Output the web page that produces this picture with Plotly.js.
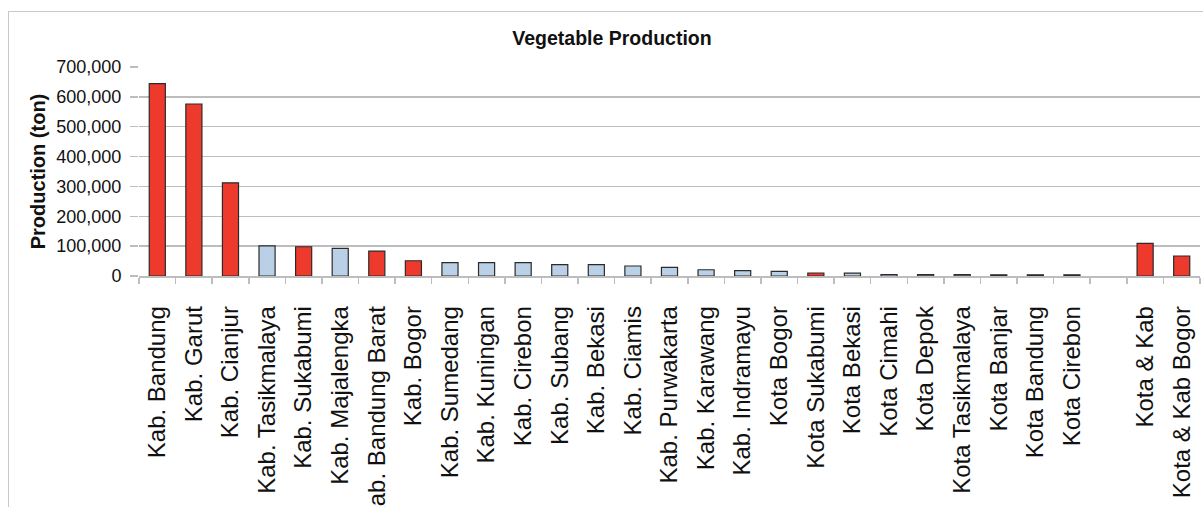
<!DOCTYPE html>
<html>
<head>
<meta charset="utf-8">
<script src="https://cdn.plot.ly/plotly-3.0.1.min.js"></script>
<style>
  html, body { margin: 0; padding: 0; background: #ffffff; overflow: hidden; }
  #wrap { position: relative; width: 1203px; height: 507px; overflow: hidden; }
  #chart { position: absolute; left: 0; top: 0; width: 1203px; height: 507px; }
  #frame { position: absolute; left: 8px; top: 11px; width: 1300px; height: 600px;
           border: 1.5px solid #c9c9c9; pointer-events: none; }
</style>
</head>
<body>
<div id="wrap">
  <div id="chart"></div>
  <div id="frame"></div>
</div>
<script>
// Regencies (Kab.) and cities (Kota) of West Java, plus two combined entries
const regions = [
  "Kab. Bandung", "Kab. Garut", "Kab. Cianjur", "Kab. Tasikmalaya", "Kab. Sukabumi",
  "Kab. Majalengka", "Kab. Bandung Barat", "Kab. Bogor", "Kab. Sumedang", "Kab. Kuningan",
  "Kab. Cirebon", "Kab. Subang", "Kab. Bekasi", "Kab. Ciamis", "Kab. Purwakarta",
  "Kab. Karawang", "Kab. Indramayu", "Kota Bogor", "Kota Sukabumi", "Kota Bekasi",
  "Kota Cimahi", "Kota Depok", "Kota Tasikmalaya", "Kota Banjar", "Kota Bandung",
  "Kota Cirebon", " ", "Kota & Kab", "Kota & Kab Bogor"
];

// Vegetable production in tons (blank slot separates the combined entries)
const production = [
  644000, 576000, 312000, 101000, 98000,
  92500, 83500, 51000, 44500, 44500,
  44500, 38000, 38000, 33500, 29000,
  21000, 18000, 15500, 10000, 9500,
  5000, 4500, 4500, 4000, 4000,
  4000, null, 109000, 67000
];

// Highlighted regions are drawn in red, the rest in light blue
const highlighted = [
  true, true, true, false, true,
  false, true, true, false, false,
  false, false, false, false, false,
  false, false, false, true, false,
  false, false, false, false, false,
  false, false, true, true
];

const RED = "#ee3a2d";
const BLUE = "#b9d0e6";
const barColors = highlighted.map(h => h ? RED : BLUE);

const yTicks = [0, 100000, 200000, 300000, 400000, 500000, 600000, 700000];
const yTickText = ["0", "100,000", "200,000", "300,000", "400,000", "500,000", "600,000", "700,000"];

const FONT = "Liberation Sans, Arial, Helvetica, sans-serif";

const trace = {
  type: "bar",
  x: regions,
  y: production,
  marker: {
    color: barColors,
    line: { color: "#2b2b2b", width: 1.2 }
  },
  hoverinfo: "x+y"
};

const layout = {
  width: 1203,
  height: 507,
  margin: { l: 139, r: 3, t: 67, b: 231, pad: 0 },
  paper_bgcolor: "#ffffff",
  plot_bgcolor: "#ffffff",
  showlegend: false,
  bargap: 0.56,
  font: { family: FONT, color: "#111111" },
  title: {
    text: "<b>Vegetable Production</b>",
    font: { family: FONT, size: 19.5, color: "#111111" },
    xref: "container", x: 0.5087, xanchor: "center",
    yref: "container", y: 1 - 38 / 507, yanchor: "middle"
  },
  xaxis: {
    type: "category",
    categoryorder: "array",
    categoryarray: regions,
    tickangle: -90,
    tickson: "boundaries",
    ticks: "outside",
    ticklen: 6,
    tickwidth: 1.5,
    tickcolor: "#bdbdbd",
    showline: true,
    linecolor: "#bdbdbd",
    linewidth: 1.5,
    showgrid: false,
    tickfont: { family: FONT, size: 24, color: "#111111" },
    ticklabelstandoff: 19,
    automargin: false,
    fixedrange: true
  },
  yaxis: {
    range: [0, 700000],
    tickvals: yTicks,
    ticktext: yTickText,
    ticks: "outside",
    ticklen: 8,
    tickwidth: 1.5,
    tickcolor: "#bdbdbd",
    showgrid: true,
    gridcolor: "#bdbdbd",
    gridwidth: 1.5,
    zeroline: false,
    showline: false,
    tickfont: { family: FONT, size: 18, color: "#111111" },
    ticklabelstandoff: 5,
    title: {
      text: "<b>Production (ton)</b>",
      font: { family: FONT, size: 20, color: "#111111" },
      standoff: 5
    },
    automargin: false,
    fixedrange: true
  }
};

Plotly.newPlot("chart", [trace], layout, { displayModeBar: false, staticPlot: true });
</script>
</body>
</html>
